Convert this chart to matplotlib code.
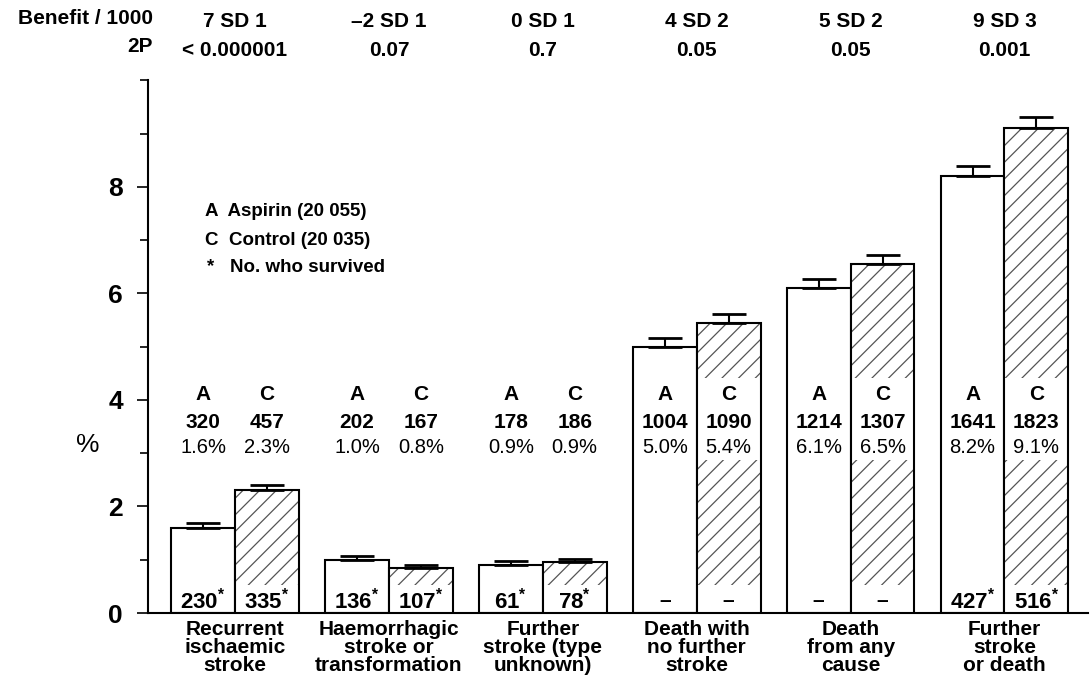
import numpy as np
import matplotlib
matplotlib.use("Agg")
from matplotlib import pyplot as plt
from matplotlib.ticker import MultipleLocator

plt.rcParams['font.family'] = ['Liberation Sans', 'DejaVu Sans']
plt.rcParams['mathtext.fontset'] = 'custom'
plt.rcParams['mathtext.rm'] = 'Liberation Sans'
plt.rcParams['mathtext.bf'] = 'Liberation Sans:bold'
plt.rcParams['hatch.linewidth'] = 0.9

categories = ['Recurrent\nischaemic\nstroke', 'Haemorrhagic\nstroke or\ntransformation',
              'Further\nstroke (type\nunknown)', 'Death with\nno further\nstroke',
              'Death\nfrom any\ncause', 'Further\nstroke\nor death']
aspirin_pct = [1.6, 1.0, 0.9, 5.0, 6.1, 8.2]
control_pct = [2.3, 0.85, 0.95, 5.45, 6.55, 9.1]
aspirin_err = [0.09, 0.07, 0.07, 0.16, 0.17, 0.19]
control_err = [0.11, 0.06, 0.07, 0.16, 0.17, 0.21]
aspirin_n = ['320', '202', '178', '1004', '1214', '1641']
control_n = ['457', '167', '186', '1090', '1307', '1823']
aspirin_lbl = ['1.6%', '1.0%', '0.9%', '5.0%', '6.1%', '8.2%']
control_lbl = ['2.3%', '0.8%', '0.9%', '5.4%', '6.5%', '9.1%']
aspirin_surv = ['230', '136', '61', None, None, '427']
control_surv = ['335', '107', '78', None, None, '516']
benefit = ['7 SD 1', '\u20132 SD 1', '0 SD 1', '4 SD 2', '5 SD 2', '9 SD 3']
p_values = ['< 0.000001', '0.07', '0.7', '0.05', '0.05', '0.001']

x = np.arange(len(categories))
w = 0.415

fig = plt.figure(figsize=(10.9, 6.8), dpi=100)
ax = fig.add_axes([0.1358, 0.0985, 0.862, 0.7835])

# aspirin bars (open)
ax.bar(x - w/2, aspirin_pct, w, facecolor='white', edgecolor='black', linewidth=1.5, zorder=2)
# control bars (hatched)
ax.bar(x + w/2, control_pct, w, facecolor='white', edgecolor='#555555', linewidth=0, hatch='//', zorder=2)
# white bands behind the text inside control bars
top_band = [max(min(v, 4.42) - 2.87, 0) for v in control_pct]
ax.bar(x + w/2, top_band, w * 0.97, bottom=2.87, color='white', linewidth=0, zorder=3)
low_band = [min(v, 0.53) for v in control_pct]
ax.bar(x + w/2, low_band, w * 0.97, color='white', linewidth=0, zorder=3)
ax.bar(x + w/2, control_pct, w, fill=False, edgecolor='black', linewidth=1.5, zorder=4)

# one-sided error bars
ax.errorbar(x - w/2, aspirin_pct, yerr=[np.zeros(6), aspirin_err], fmt='none', ecolor='black',
            elinewidth=1.5, capsize=12, capthick=2, zorder=5)
ax.errorbar(x + w/2, control_pct, yerr=[np.zeros(6), control_err], fmt='none', ecolor='black',
            elinewidth=1.5, capsize=12, capthick=2, zorder=5)

for i in range(len(x)):
    for dx, letter, n, lbl, surv in [(-w/2, 'A', aspirin_n[i], aspirin_lbl[i], aspirin_surv[i]),
                                      (w/2, 'C', control_n[i], control_lbl[i], control_surv[i])]:
        xx = x[i] + dx
        ax.text(xx, 4.11, letter, ha='center', va='center', fontsize=15, fontweight='bold', zorder=6)
        ax.text(xx, 3.57, n, ha='center', va='center', fontsize=15, fontweight='bold', zorder=6)
        ax.text(xx, 3.10, lbl, ha='center', va='center', fontsize=14.5, zorder=6)
        if surv is None:
            ax.text(xx, 0.23, '\u2013', ha='center', va='center', fontsize=15, fontweight='bold', zorder=6)
        else:
            ax.text(xx, 0.23, r'$\mathbf{' + surv + r'^{*}}$', ha='center', va='center', fontsize=16, zorder=6)

# header rows
for i in range(len(x)):
    ax.text(x[i], 1.11, benefit[i], transform=ax.get_xaxis_transform(), ha='center', va='center',
            fontsize=15, fontweight='bold')
    ax.text(x[i], 1.055, p_values[i], transform=ax.get_xaxis_transform(), ha='center', va='center',
            fontsize=15, fontweight='bold')
fig.text(153/1090, 1 - 18/680, 'Benefit / 1000', ha='right', va='center', fontsize=15, fontweight='bold')
fig.text(153/1090, 1 - 47/680, '2P', ha='right', va='center', fontsize=15, fontweight='bold')

# legend text
fig.text(205/1090, 1 - 212/680, 'A  Aspirin (20 055)', ha='left', va='center', fontsize=13.5, fontweight='bold')
fig.text(205/1090, 1 - 240/680, 'C  Control (20 035)', ha='left', va='center', fontsize=13.5, fontweight='bold')
fig.text(207/1090, 1 - 268/680, '*   No. who survived', ha='left', va='center', fontsize=13.5, fontweight='bold')

fig.text(88/1090, 1 - 445/680, '%', ha='center', va='center', fontsize=19)

ax.set_xlim(-0.565, 5.54)
ax.set_ylim(0, 10)
ax.set_xticks(x)
ax.set_xticklabels(categories, fontsize=15, fontweight='bold', linespacing=0.92)
ax.tick_params(axis='x', length=0, pad=5)
ax.yaxis.set_major_locator(MultipleLocator(2))
ax.yaxis.set_minor_locator(MultipleLocator(1))
ax.set_yticks([0, 2, 4, 6, 8])
ax.set_yticklabels(['0', '2', '4', '6', '8'], fontsize=19, fontweight='bold')
ax.tick_params(axis='y', which='major', length=8, width=1.2, pad=10)
ax.tick_params(axis='y', which='minor', length=6, width=1.2)
ax.spines['top'].set_visible(False)
ax.spines['right'].set_visible(False)
ax.spines['left'].set_linewidth(1.5)
ax.spines['bottom'].set_linewidth(1.5)

fig.savefig('out.png', dpi=100)
